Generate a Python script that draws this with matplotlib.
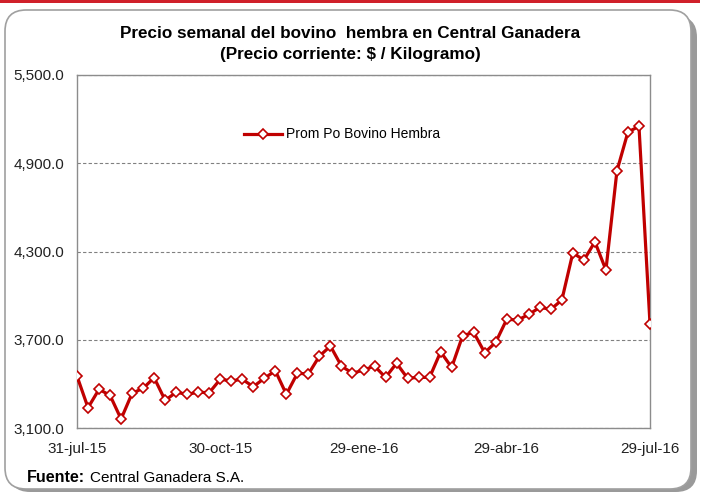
import numpy as np
import pandas as pd
import matplotlib
matplotlib.use("Agg")
import matplotlib.pyplot as plt
from matplotlib.patches import FancyBboxPatch, Rectangle
from matplotlib.ticker import FuncFormatter

# weekly prices, 31-jul-15 .. 29-jul-16
fechas = pd.date_range("2015-07-31", periods=53, freq="7D")
precio = [3453, 3238, 3363, 3322, 3161, 3336, 3370, 3442, 3288, 3343,
          3329, 3343, 3340, 3431, 3421, 3431, 3381, 3438, 3489, 3329,
          3472, 3467, 3589, 3657, 3521, 3472, 3494, 3521, 3444, 3540,
          3438, 3444, 3444, 3618, 3512, 3728, 3750, 3612, 3683, 3839,
          3834, 3872, 3920, 3907, 3970, 4291, 4241, 4366, 4174, 4848,
          5113, 5150, 3808]
tick_fechas = fechas[::13]
tick_labels = ["31-jul-15", "30-oct-15", "29-ene-16", "29-abr-16", "29-jul-16"]
y_ticks = [3100, 3700, 4300, 4900, 5500]

RED = "#C00000"
plt.rcParams["font.family"] = ["Liberation Sans", "DejaVu Sans"]

fig = plt.figure(figsize=(7.05, 4.98), dpi=100)
W, H = 705.0, 498.0

# red band at top and rounded frame with shadow
fig.patches.append(Rectangle((0, 1 - 3 / H), 700 / W, 3 / H, transform=fig.transFigure,
                             facecolor="#D0202A", edgecolor="none", zorder=0))
shadow = FancyBboxPatch((9 / W, 6 / H), 688 / W, 476 / H,
                        boxstyle="round,pad=0,rounding_size=0.03",
                        transform=fig.transFigure, facecolor="#9a9a9a",
                        edgecolor="none", zorder=0, mutation_aspect=W / H)
frame = FancyBboxPatch((5 / W, 9 / H), 686 / W, 479 / H,
                       boxstyle="round,pad=0,rounding_size=0.03",
                       transform=fig.transFigure, facecolor="white",
                       edgecolor="#a0a0a0", lw=1.2, zorder=0, mutation_aspect=W / H)
fig.patches.extend([shadow, frame])

ax = fig.add_axes([77 / W, 1 - 428 / H, 573 / W, 353 / H], zorder=3)
ax.set_facecolor("white")
ax.plot(fechas, precio, color=RED, lw=2.3, marker="D", markersize=5,
        markerfacecolor="white", markeredgecolor=RED, markeredgewidth=1.2,
        label="Prom Po Bovino Hembra", zorder=3)

ax.set_xlim(fechas[0], fechas[-1])
ax.set_ylim(3100, 5500)
ax.set_yticks(y_ticks)
ax.yaxis.set_major_formatter(FuncFormatter(lambda v, p: "{:,.1f}".format(v)))
ax.set_xticks(tick_fechas)
ax.set_xticklabels(tick_labels)
ax.tick_params(axis="both", length=0, labelsize=11, colors="#222222")
ax.tick_params(axis="y", pad=9)
ax.tick_params(axis="x", pad=10)
ax.yaxis.grid(True, color="#808080", linestyle=(0, (3, 2)), lw=0.8)
for s in ax.spines.values():
    s.set_color("#8c8c8c")
    s.set_linewidth(1.0)

ax.legend(loc="upper left", bbox_to_anchor=(0.27, 0.887), frameon=False,
          fontsize=10, handlelength=2.7, handletextpad=0.3)

fig.text(350 / W, 1 - 34 / H, "Precio semanal del bovino  hembra en Central Ganadera",
         ha="center", va="center", fontsize=12.3, fontweight="bold", zorder=3)
fig.text(350 / W, 1 - 54 / H, "(Precio corriente: $ / Kilogramo)",
         ha="center", va="center", fontsize=12.3, fontweight="bold", zorder=3)
fig.text(27 / W, 1 - 478 / H, "Fuente:", ha="left", va="center",
         fontsize=11.5, fontweight="bold", zorder=3)
fig.text(90 / W, 1 - 478 / H, "Central Ganadera S.A.", ha="left", va="center",
         fontsize=11, zorder=3)

fig.savefig("out.png", dpi=100)
